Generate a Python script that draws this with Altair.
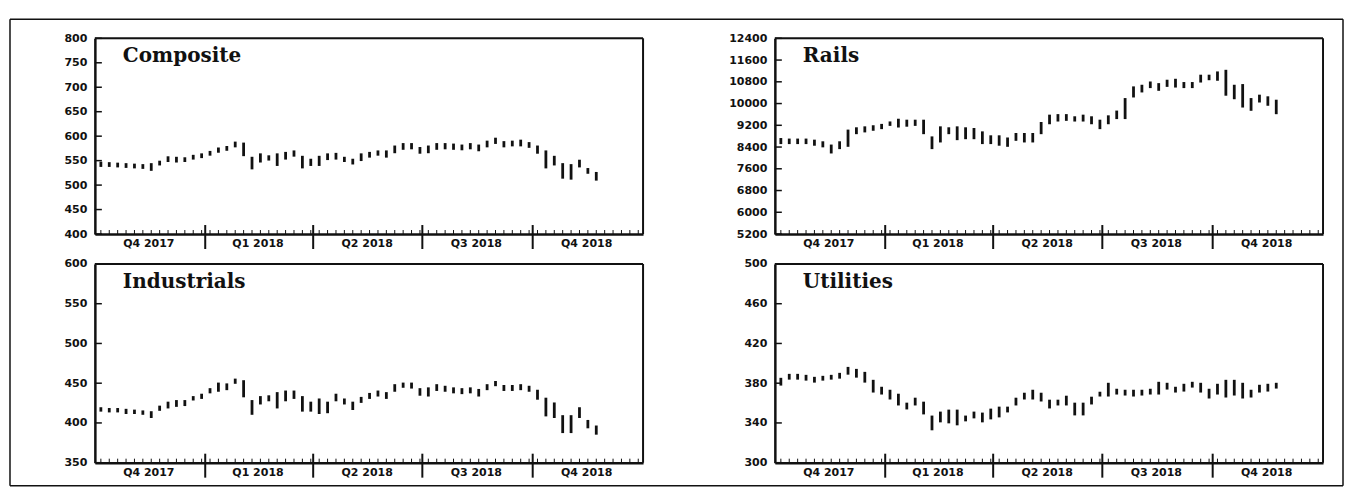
import altair as alt
import pandas as pd

# ---------------- data ----------------
week_dates = pd.date_range("2017-10-06", periods=60, freq="7D")
minor_tick_dates = pd.date_range("2017-10-06", "2018-12-28", freq="7D")
quarter_bounds = pd.to_datetime(["2018-01-01", "2018-04-01", "2018-07-01", "2018-10-01"])
quarter_mids = pd.to_datetime(["2017-11-15", "2018-02-14", "2018-05-16", "2018-08-15", "2018-11-15"])
quarter_labels = ["Q4 2017", "Q1 2018", "Q2 2018", "Q3 2018", "Q4 2018"]

comp_low = [540, 540, 539, 538, 537, 536, 532, 543, 550, 549, 550, 555, 558, 563, 569, 573, 580, 562, 535, 549,
            553, 542, 555, 561, 537, 542, 542, 554, 555, 550, 545, 552, 559, 563, 559, 568, 575, 576, 567, 568,
            575, 576, 575, 574, 576, 572, 580, 587, 580, 582, 582, 579, 567, 537, 543, 516, 514, 539, 526, 512]
comp_high = [545, 544, 543, 542, 541, 540, 542, 547, 556, 555, 554, 559, 562, 567, 574, 577, 586, 584, 555, 562,
             558, 562, 565, 568, 557, 551, 557, 562, 563, 555, 551, 562, 565, 568, 568, 578, 583, 583, 575, 578,
             583, 583, 582, 580, 583, 580, 588, 594, 587, 588, 590, 585, 578, 568, 557, 542, 540, 549, 532, 524]

rails_low = [8560, 8560, 8560, 8560, 8500, 8440, 8215, 8375, 8460, 8925, 8990, 9050, 9110, 9230, 9170, 9200, 9230,
             8925, 8375, 8620, 8925, 8705, 8740, 8740, 8560, 8560, 8500, 8460, 8680, 8620, 8620, 8925, 9290, 9390,
             9415, 9390, 9390, 9290, 9110, 9290, 9480, 9480, 10275, 10460, 10620, 10520, 10665, 10640, 10620, 10620,
             10825, 10910, 10890, 10340, 10210, 9905, 9785, 10090, 9970, 9660]
rails_high = [8680, 8660, 8660, 8660, 8620, 8560, 8440, 8560, 8990, 9075, 9110, 9150, 9200, 9290, 9390, 9355, 9355,
              9355, 8740, 9110, 9075, 9110, 9075, 9050, 8925, 8780, 8780, 8700, 8865, 8865, 8865, 9270, 9540, 9560,
              9560, 9480, 9540, 9480, 9355, 9515, 9690, 10150, 10580, 10640, 10760, 10700, 10825, 10860, 10740, 10740,
              11010, 11010, 11130, 11190, 10640, 10665, 10150, 10275, 10215, 10090]

ind_low = [416, 415, 415, 413, 413, 412, 408, 417, 420, 422, 423, 430, 432, 439, 441, 443, 451, 434, 412, 425,
           429, 420, 429, 432, 416, 416, 413, 414, 429, 425, 418, 427, 432, 435, 432, 441, 446, 445, 436, 435,
           442, 441, 439, 438, 439, 435, 443, 448, 442, 442, 443, 441, 431, 410, 408, 389, 389, 408, 395, 387]
ind_high = [418, 417, 417, 416, 415, 414, 413, 420, 425, 427, 427, 432, 435, 442, 449, 448, 454, 452, 427, 432,
            433, 437, 439, 439, 432, 425, 429, 425, 435, 429, 425, 431, 436, 439, 437, 447, 449, 449, 442, 443,
            447, 445, 443, 442, 443, 441, 447, 451, 446, 446, 447, 445, 440, 430, 424, 408, 408, 418, 402, 395]

util_low = [379, 385, 385, 384, 382, 384, 385, 386, 390, 387, 382, 372, 370, 365, 359, 355, 359, 350, 334, 342,
            341, 339, 343, 346, 342, 345, 347, 352, 359, 365, 365, 363, 356, 359, 359, 349, 349, 360, 368, 368,
            370, 369, 368, 369, 370, 370, 375, 372, 373, 377, 372, 366, 370, 367, 369, 366, 367, 372, 373, 376]
util_high = [384, 388, 388, 387, 385, 386, 387, 389, 395, 393, 390, 382, 375, 372, 368, 359, 364, 360, 346, 350,
             352, 352, 346, 350, 349, 353, 355, 355, 364, 369, 372, 369, 362, 362, 366, 359, 359, 365, 370, 379,
             373, 372, 372, 372, 373, 380, 379, 375, 378, 380, 379, 373, 378, 382, 382, 379, 372, 377, 378, 379]

panels = [
    ("Composite", comp_low, comp_high, [400, 800], [400, 450, 500, 550, 600, 650, 700, 750, 800], 196),
    ("Rails", rails_low, rails_high, [5200, 12400],
     [5200, 6000, 6800, 7600, 8400, 9200, 10000, 10800, 11600, 12400], 196),
    ("Industrials", ind_low, ind_high, [350, 600], [350, 400, 450, 500, 550, 600], 199),
    ("Utilities", util_low, util_high, [300, 500], [300, 340, 380, 420, 460, 500], 199),
]

W = 549
LABEL_FONT = "DejaVu Sans"
TITLE_FONT = "DejaVu Serif"
INK = "#111111"

x_scale = alt.Scale(domain=[alt.DateTime(year=2017, month=10, date=1),
                            alt.DateTime(year=2019, month=1, date=1)])
x_axis = alt.Axis(domain=True, domainColor=INK, domainWidth=2.5, ticks=False,
                  labels=False, grid=False, title=None)


def make_panel(name, lows, highs, domain, ticks, H, frame=False):
    y_scale = alt.Scale(domain=domain, nice=False, zero=False)
    y_axis = alt.Axis(values=ticks, format="d", ticks=False, labelPadding=8, domainColor=INK,
                      domainWidth=2.5, grid=False, title=None, labelFont=LABEL_FONT,
                      labelFontWeight="bold", labelFontSize=11, labelColor=INK,
                      labelOverlap=False)
    X = alt.X("d:T", scale=x_scale, axis=x_axis)

    bars_df = pd.DataFrame({"d": week_dates, "low": lows, "high": highs})
    bars = alt.Chart(bars_df).mark_rule(strokeWidth=2.8, strokeCap="square", color=INK).encode(
        x=X, y=alt.Y("low:Q", scale=y_scale, axis=y_axis), y2="high:Q")

    ytick_df = pd.DataFrame({"v": ticks})
    yticks = alt.Chart(ytick_df).mark_rule(strokeWidth=1.5, color=INK).encode(
        y=alt.Y("v:Q", scale=y_scale, axis=y_axis), x=alt.value(0), x2=alt.value(7))

    minor_df = pd.DataFrame({"d": minor_tick_dates})
    minor = alt.Chart(minor_df).mark_rule(strokeWidth=1, color=INK).encode(
        x=X, y=alt.value(H), y2=alt.value(H - 4))

    qb_df = pd.DataFrame({"d": quarter_bounds})
    qb = alt.Chart(qb_df).mark_rule(strokeWidth=2, color=INK).encode(
        x=X, y=alt.value(H - 9), y2=alt.value(H + 15))

    ql_df = pd.DataFrame({"d": quarter_mids, "label": quarter_labels})
    ql = alt.Chart(ql_df).mark_text(font=LABEL_FONT, fontWeight="bold", fontSize=11,
                                    baseline="middle", align="center", color=INK).encode(
        x=X, y=alt.value(H + 10), text="label:N")

    title_df = pd.DataFrame({"t": [name]})
    title = alt.Chart(title_df).mark_text(font=TITLE_FONT, fontWeight="bold", fontSize=20,
                                          align="left", baseline="middle", color=INK).encode(
        x=alt.value(28), y=alt.value(18), text="t:N")

    # dark top and right edges of the plot box
    edge_df = pd.DataFrame({"k": [0]})
    top_edge = alt.Chart(edge_df).mark_rule(strokeWidth=2, color=INK).encode(
        x=alt.value(0), x2=alt.value(W), y=alt.value(0), y2=alt.value(0))
    right_edge = alt.Chart(edge_df).mark_rule(strokeWidth=2, color=INK).encode(
        x=alt.value(W), x2=alt.value(W), y=alt.value(0), y2=alt.value(H))

    layers = [bars, yticks, minor, qb, ql, title, top_edge, right_edge]
    if frame:
        fdf = pd.DataFrame({"k": [0]})
        L, R, T, B = -85, 1250, -19, 448
        for (xa, xb, ya, yb) in [(L, R, T, T), (L, R, B, B), (L, L, T, B), (R, R, T, B)]:
            layers.append(alt.Chart(fdf).mark_rule(strokeWidth=1.5, color=INK).encode(
                x=alt.value(xa), x2=alt.value(xb), y=alt.value(ya), y2=alt.value(yb)))
    return alt.layer(*layers).properties(width=W, height=H)


charts = [make_panel(*p, frame=(i == 0)) for i, p in enumerate(panels)]

chart = alt.concat(*charts, columns=2, spacing={"row": 30, "column": 132}, bounds="flush").properties(
    padding={"left": 0, "top": 9, "right": 0, "bottom": 0}
).configure_view(stroke=INK, strokeWidth=2).configure(background="white")

chart.save("out.html", embed_options={"renderer": "svg", "actions": False})
